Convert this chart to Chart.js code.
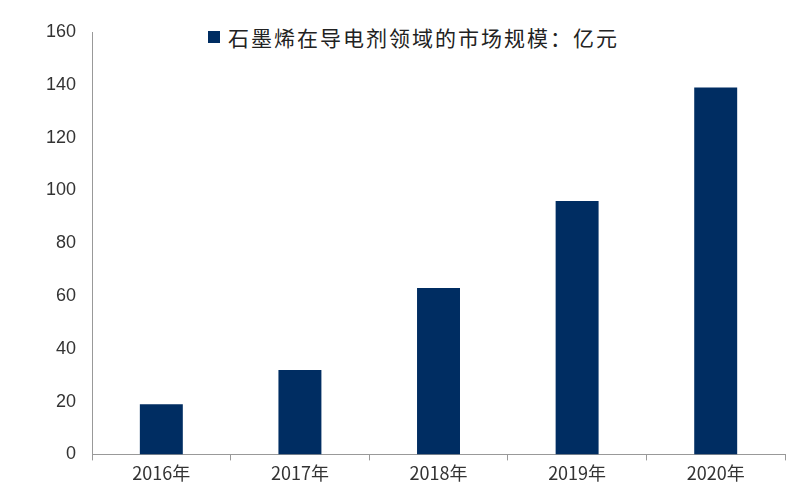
<!DOCTYPE html>
<html><head><meta charset="utf-8">
<script src="https://cdn.jsdelivr.net/npm/chart.js@4"></script>
<style>
html,body{margin:0;padding:0;background:#fff;}
#wrap{position:relative;width:800px;height:494px;}
#leg{position:absolute;left:204px;top:22px;font:21px "Noto Sans CJK SC";letter-spacing:2px;color:#222;display:flex;align-items:center;background:#fff;padding:0 4px;}
#leg span.b{display:inline-block;width:12px;height:12px;background:#002d62;margin-right:8px;}
</style></head><body>
<div id="wrap"><canvas id="c" width="800" height="494"></canvas>
<div id="leg"><span class="b"></span><span>石墨烯在导电剂领域的市场规模：亿元</span></div></div>
<script>
const categories=["2016年","2017年","2018年","2019年","2020年"];
const values=[19,32,63,96,139];
const seriesName="石墨烯在导电剂领域的市场规模：亿元";
new Chart(document.getElementById('c'),{
type:'bar',
data:{labels:categories,datasets:[{label:seriesName,data:values,backgroundColor:'#002d62',categoryPercentage:1,barPercentage:0.31}]},
options:{responsive:false,animation:false,
layout:{padding:{top:32,right:15,left:38,bottom:8}},
plugins:{legend:{display:false},tooltip:{enabled:false}},
scales:{
y:{min:0,max:160,ticks:{stepSize:20,color:'#333',font:{size:18,family:'Liberation Sans'},padding:8},grid:{display:false},border:{color:'#999'}},
x:{offset:true,ticks:{color:'#333',font:{size:18,family:'Noto Sans CJK SC'},padding:2},grid:{display:true,drawOnChartArea:false,offset:true,tickLength:6,color:'#999'},border:{color:'#999'}}
}}});
</script></body></html>
